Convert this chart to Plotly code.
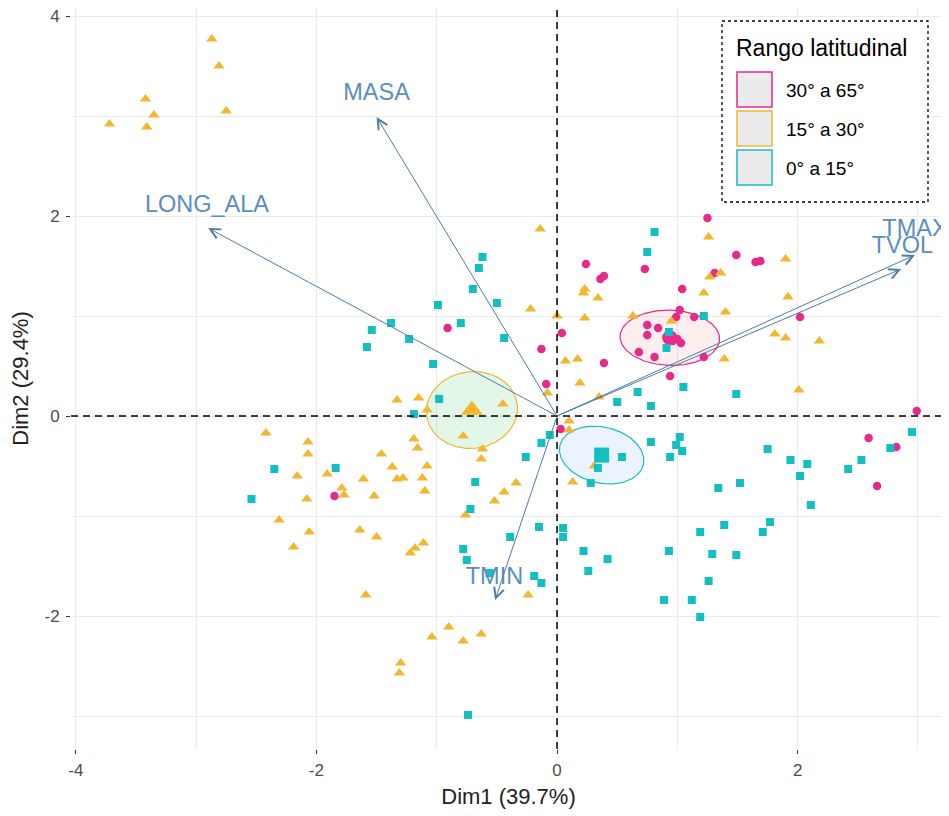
import numpy as np
import plotly.graph_objects as go

# PCA individuals, one pair of lists per latitudinal range
hi_x = [0.24, 0.36, 0.39, -0.91, 0.04, -0.13, 0.39, -0.09, 0.03, 1.25, 1.49, 1.65, 1.69, 1.31, 0.73, 1.04,
        1.02, 0.99, 1.14, 0.75, 0.84, 0.75, 0.91, 0.96, 1.00, 1.03, 0.68, 0.81, 1.22, 0.94, 2.02, 2.99,
        2.59, 2.82, 2.66, -1.85]
hi_y = [1.52, 1.37, 1.40, 0.88, 0.83, 0.67, 0.53, 0.32, -0.13, 1.98, 1.61, 1.54, 1.55, 1.43, 1.47, 1.27,
        1.06, 0.99, 0.99, 0.91, 0.88, 0.81, 0.79, 0.75, 0.77, 0.73, 0.64, 0.59, 0.59, 0.40, 0.99, 0.05,
        -0.22, -0.31, -0.70, -0.80]

mid_x = [-2.87, -2.81, -3.42, -3.35, -3.72, -3.41, -2.75, -0.14, 0.22, 0.23,
         0.34, -0.22, 0.00, 0.23, 0.07, 0.17, 0.19, -0.08, 0.35, -1.33,
         -1.15, -1.08, -0.45, -0.78, 0.10, 0.10, -1.19, -1.16, -0.62, -0.63,
         -1.46, -1.37, -1.08, -2.42, -2.07, -2.07, -2.16, -1.91, -1.61, -1.33,
         -1.28, -1.12, -2.08, -1.79, -1.77, -1.52, -1.10, -0.52, -2.31, -2.06,
         -2.19, -1.64, -1.50, -1.11, -1.18, -1.22, -0.76, -1.59, -0.34, -0.44,
         0.13, 0.31, -0.24, -0.63, -0.90, -1.04, -0.78, -1.30, -1.31, 1.26,
         1.90, 1.27, 1.36, 1.22, 1.92, 1.40, 0.63, 0.95, 1.81, 1.90,
         2.18, 1.39, 2.01]
mid_y = [3.77, 3.50, 3.17, 3.01, 2.92, 2.89, 3.05, 1.87, 1.23, 1.27,
         1.18, 1.07, 1.00, 0.98, 0.55, 0.57, 0.33, 0.23, 0.19, 0.16,
         0.18, 0.06, 0.12, -0.20, -0.05, -0.14, -0.23, -0.32, -0.33, -0.43,
         -0.38, -0.51, -0.50, -0.17, -0.26, -0.38, -0.60, -0.58, -0.63, -0.63,
         -0.62, -0.62, -0.83, -0.72, -0.79, -0.80, -0.75, -0.85, -1.04, -1.16,
         -1.31, -1.14, -1.21, -1.27, -1.32, -1.37, -0.99, -1.79, -0.67, -0.76,
         -0.66, -0.50, -1.79, -2.18, -2.11, -2.21, -2.25, -2.47, -2.57, 1.79,
         1.57, 1.39, 1.43, 1.23, 1.19, 1.04, 1.00, 0.95, 0.82, 0.78,
         0.75, 0.57, 0.26]

low_x = [-0.62, -0.65, -0.70, -0.50, -0.99, -1.38, -1.54, -0.80, -1.23, -1.58,
         -0.44, -1.03, -0.98, -1.19, 0.50, -0.06, -0.13, -0.26, 0.54, 0.34,
         -1.84, -2.35, -2.54, -0.68, -0.72, -0.78, -0.75, -0.56, 0.67, 1.05,
         1.49, 0.78, 0.28, 0.78, 1.02, 0.99, 1.04, 0.94, 1.75, 1.34,
         1.52, -0.15, -0.39, 0.05, 0.05, 0.22, 0.42, 0.26, 0.93, 1.19,
         1.39, 1.29, 1.49, 1.71, 1.77, 1.26, -0.19, -0.13, 0.89, 1.12,
         1.19, -0.74, 0.81, 0.75, 1.22, 0.93, 0.91, 2.95, 2.77, 1.94,
         2.08, 2.02, 2.53, 2.42, 2.11]
low_y = [1.59, 1.48, 1.27, 1.13, 1.11, 0.93, 0.86, 0.93, 0.77, 0.69,
         0.78, 0.52, 0.17, 0.02, 0.14, -0.19, -0.27, -0.41, -0.41, -0.52,
         -0.52, -0.53, -0.83, -0.66, -0.93, -1.33, -1.44, -1.57, 0.24, 0.29,
         0.22, 0.10, -0.67, -0.26, -0.21, -0.29, -0.35, -0.41, -0.33, -0.72,
         -0.67, -1.11, -1.21, -1.12, -1.21, -1.35, -1.43, -1.55, -1.35, -1.16,
         -1.09, -1.38, -1.39, -1.16, -1.06, -1.65, -1.60, -1.67, -1.84, -1.84,
         -2.01, -2.99, 1.84, 1.64, 1.00, 0.84, 0.68, -0.16, -0.32, -0.44,
         -0.48, -0.60, -0.44, -0.53, -0.89]

# variables (arrows) and where their labels sit
var_names = ["MASA", "LONG_ALA", "TMAX", "TVOL", "TMIN"]
var_x = [-1.50, -2.90, 2.975, 2.86, -0.515]
var_y = [2.99, 1.88, 1.61, 1.47, -1.84]
lab_x = [-1.50, -2.91, 2.975, 2.87, -0.52]
lab_y = [3.22, 2.10, 1.86, 1.69, -1.62]

group_names = ["30° a 65°", "15° a 30°", "0° a 15°"]

tick_vals = [-4, -2, 0, 2, 4]
tick_text = ["-4", "-2", "0", "2", "4"]

FONT = "Liberation Sans, Arial, sans-serif"
ARROW = "#4A7DAA"
LABEL = "#5A8EBF"
groups = [
    dict(x=hi_x, y=hi_y, color="#E7298A", symbol="circle", size=8.5, big=15,
         fill="rgba(248,118,109,0.12)"),
    dict(x=mid_x, y=mid_y, color="#F3B62F", symbol="triangle-up", size=10, big=19,
         fill="rgba(0,186,56,0.11)"),
    dict(x=low_x, y=low_y, color="#12BFC3", symbol="square", size=8, big=15,
         fill="rgba(97,156,255,0.12)"),
]


def conf_ellipse(x, y, level=0.95, npts=200):
    pts = np.column_stack([x, y])
    n = len(pts)
    mu = pts.mean(axis=0)
    cov = np.cov(pts.T) / n
    d = n - 1
    fq = d / 2 * ((1 - level) ** (-2 / d) - 1)  # F(level; 2, d)
    r = np.sqrt(2 * fq)
    vals, vecs = np.linalg.eigh(cov)
    t = np.linspace(0, 2 * np.pi, npts)
    circ = np.vstack([np.cos(t), np.sin(t)])
    ell = vecs @ (np.sqrt(vals)[:, None] * circ) * r + mu[:, None]
    return ell[0], ell[1], mu


fig = go.Figure()

# ellipses first
for g in groups:
    ex, ey, mu = conf_ellipse(g["x"], g["y"])
    g["mu"] = mu
    fig.add_trace(go.Scatter(x=ex, y=ey, mode="lines", fill="toself", fillcolor=g["fill"],
                             line=dict(color=g["color"], width=1.2), hoverinfo="skip",
                             showlegend=False))

for g, name in zip(groups, group_names):
    fig.add_trace(go.Scatter(x=g["x"], y=g["y"], mode="markers", name=name, showlegend=False,
                             marker=dict(color=g["color"], symbol=g["symbol"], size=g["size"],
                                         line=dict(width=0))))
    fig.add_trace(go.Scatter(x=[g["mu"][0]], y=[g["mu"][1]], mode="markers", showlegend=False,
                             marker=dict(color=g["color"], symbol=g["symbol"], size=g["big"],
                                         line=dict(width=0))))

# variable arrows
for vx, vy in zip(var_x, var_y):
    fig.add_annotation(x=vx, y=vy, ax=0, ay=0, xref="x", yref="y", axref="x", ayref="y",
                       text="", showarrow=True, arrowhead=5, arrowsize=2, arrowwidth=1,
                       arrowcolor=ARROW, standoff=0)

fig.add_trace(go.Scatter(x=lab_x, y=lab_y, mode="text", text=var_names, cliponaxis=True,
                         textfont=dict(family=FONT, size=23.5, color=LABEL), showlegend=False,
                         hoverinfo="skip"))

# dashed origin lines
fig.add_shape(type="line", xref="paper", yref="y", x0=0, x1=1, y0=0, y1=0,
              line=dict(color="black", width=1.5, dash="7px,5px"))
fig.add_shape(type="line", xref="x", yref="paper", x0=0, x1=0, y0=0, y1=1,
              line=dict(color="black", width=1.5, dash="7px,5px"))

# the page body adds an 8px offset, so the panel is placed in screen pixels
PAGE = 8
L, R, T, B = 71, 946, PAGE, 749

# hand-built legend, drawn on an overlay axis measured in screen pixels of the panel
fig.add_shape(type="rect", xref="x2", yref="y2", x0=722, x1=928, y0=21, y1=202,
              line=dict(color="black", width=1.3, dash="dot"), fillcolor="white", layer="above")
fig.add_annotation(xref="x2", yref="y2", x=734, y=48, text="Rango latitudinal", showarrow=False,
                   xanchor="left", yanchor="middle", font=dict(family=FONT, size=23, color="black"))
key_top = [72, 111, 150]
for g, name, ky in zip(groups, group_names, key_top):
    fig.add_shape(type="rect", xref="x2", yref="y2", x0=737, x1=772, y0=ky, y1=ky + 35,
                  line=dict(color=g["color"], width=1.5), fillcolor="#EBEBEB", layer="above")
    fig.add_annotation(xref="x2", yref="y2", x=784, y=ky + 18, text=name, showarrow=False,
                       xanchor="left", yanchor="middle",
                       font=dict(family=FONT, size=19, color="black"))
fig.add_trace(go.Scatter(x=[754.5, 754.5, 754.5], y=[k + 17.5 for k in key_top], mode="markers",
                         xaxis="x2", yaxis="y2", showlegend=False, hoverinfo="skip",
                         marker=dict(color=[g["color"] for g in groups],
                                     symbol=[g["symbol"] for g in groups],
                                     size=[13, 20, 12], line=dict(width=0))))

grid = "#EBEBEB"
axis_common = dict(showgrid=True, gridcolor=grid, gridwidth=1.1, zeroline=False, showline=False,
                   ticks="outside", ticklen=4, tickwidth=1.1, tickcolor="#333333",
                   tickmode="array", tickvals=tick_vals, ticktext=tick_text,
                   tickfont=dict(family=FONT, size=17, color="#4D4D4D"),
                   ticklabeloverflow="allow",
                   minor=dict(tickmode="linear", tick0=0, dtick=1, showgrid=True,
                              gridcolor=grid, gridwidth=0.8),
                   automargin=False)

fig.update_layout(
    width=949, height=816,
    margin=dict(l=L - PAGE, r=949 - R + PAGE, t=T - PAGE, b=816 - B + PAGE),
    plot_bgcolor="white", paper_bgcolor="white",
    font=dict(family=FONT),
    xaxis=dict(range=[-4.04, 3.233], ticklabelstandoff=2,
               title=dict(text="Dim1 (39.7%)", font=dict(family=FONT, size=22, color="#222222"),
                          standoff=9),
               **axis_common),
    yaxis=dict(range=[-3.33, 4.08], ticklabelstandoff=3,
               title=dict(text="Dim2 (29.4%)", font=dict(family=FONT, size=22, color="#222222"),
                          standoff=10),
               **axis_common),
    xaxis2=dict(overlaying="x", range=[L, R], visible=False, fixedrange=True),
    yaxis2=dict(overlaying="y", range=[B, T], visible=False, fixedrange=True),
    showlegend=False,
)

fig.write_html("out.html")
